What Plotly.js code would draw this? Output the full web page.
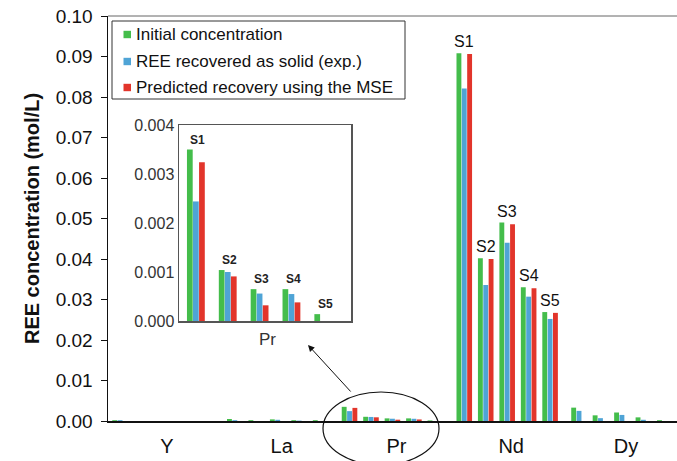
<!DOCTYPE html>
<html>
<head>
<meta charset="utf-8">
<script src="https://cdn.plot.ly/plotly-3.0.1.min.js"></script>
<style>html,body{margin:0;padding:0;background:#fff;}#chart{width:677px;height:461px;}</style>
</head>
<body>
<div id="chart"></div>
<script>
// ---------- data ----------
const elements = ['Y', 'La', 'Pr', 'Nd', 'Dy'];
const samples = ['S1', 'S2', 'S3', 'S4', 'S5'];
const seriesNames = ['Initial concentration', 'REE recovered as solid (exp.)', 'Predicted recovery using the MSE'];
const seriesColors = ['#44bd4b', '#4fa4d6', '#e2352b'];

// rows = elements (Y, La, Pr, Nd, Dy), columns = samples S1..S5, mol/L
const initialConc = [
  [0.0002, 0, 0, 0, 0],
  [0.0005, 0.0002, 0.0004, 0.0002, 0.0002],
  [0.0035, 0.00104, 0.00065, 0.00065, 0.00014],
  [0.0908, 0.0402, 0.0490, 0.0330, 0.0269],
  [0.0033, 0.0014, 0.0021, 0.0009, 0.0002]
];
const recoveredSolid = [
  [0.0002, 0, 0, 0, 0],
  [0.0002, 0, 0.0003, 0.0001, 0],
  [0.00244, 0.0010, 0.00056, 0.00055, 0],
  [0.0821, 0.0336, 0.0440, 0.0307, 0.0252],
  [0.0025, 0.0007, 0.0015, 0.0003, 0]
];
const predictedMSE = [
  [0, 0, 0, 0, 0],
  [0, 0, 0, 0, 0],
  [0.00324, 0.00091, 0.00032, 0.00038, 0],
  [0.0906, 0.0400, 0.0486, 0.0328, 0.0267],
  [0, 0, 0, 0, 0]
];
const seriesData = [initialConc, recoveredSolid, predictedMSE];
const insetElement = 'Pr';
const labelledElement = 'Nd';

// ---------- layout helpers ----------
const ML = 108, MR = 0, MT = 16, MB = 40, W = 677, H = 461;
const PW = W - ML - MR, PH = H - MT - MB;
const fx = px => (px - ML) / PW;
const fy = py => (H - MB - py) / PH;
const FONT = '"Liberation Sans", Arial, sans-serif';

const sampleStep = 0.187;        // spacing of sample groups inside an element (axis units)
const mainW = 0.0425, mainSlot = 0.0466;
const insetW = 0.18, insetSlot = 0.19;

const traces = [];
seriesData.forEach((ser, k) => {
  const xs = [], ys = [], txt = [];
  elements.forEach((el, i) => {
    samples.forEach((s, j) => {
      xs.push(i + (j - 2) * sampleStep);
      ys.push(ser[i][j]);
      txt.push(el + ' ' + s);
    });
  });
  traces.push({
    type: 'bar', name: seriesNames[k], x: xs, y: ys, text: txt, textposition: 'none',
    width: mainW, offset: -1.5 * mainSlot + k * mainSlot + (mainSlot - mainW) / 2,
    marker: {color: seriesColors[k], line: {width: 0}},
    xaxis: 'x', yaxis: 'y', showlegend: false
  });
});
const pi = elements.indexOf(insetElement);
seriesData.forEach((ser, k) => {
  traces.push({
    type: 'bar', name: seriesNames[k], x: samples, y: ser[pi],
    width: insetW, offset: -1.5 * insetSlot + k * insetSlot + (insetSlot - insetW) / 2,
    marker: {color: seriesColors[k], line: {width: 0}},
    xaxis: 'x2', yaxis: 'y2', showlegend: false
  });
});

const annotations = [];
const shapes = [];
// Nd sample labels
const ni = elements.indexOf(labelledElement);
samples.forEach((s, j) => {
  const top = Math.max(...seriesData.map(ser => ser[ni][j]));
  annotations.push({x: ni + (j - 2) * sampleStep, y: top, xref: 'x', yref: 'y', text: s,
    showarrow: false, xanchor: 'center', yanchor: 'bottom', yshift: 1, font: {family: FONT, size: 16, color: '#111'}});
});
// inset sample labels
samples.forEach((s, j) => {
  const top = Math.max(...seriesData.map(ser => ser[pi][j]));
  annotations.push({x: s, y: top, xref: 'x2', yref: 'y2', text: '<b>' + s + '</b>',
    showarrow: false, xanchor: 'center', yanchor: 'bottom', yshift: 1, xshift: 2, font: {family: FONT, size: 12, color: '#222'}});
});
// inset category label
annotations.push({x: fx(267), y: fy(339), xref: 'paper', yref: 'paper', text: insetElement,
  showarrow: false, xanchor: 'center', yanchor: 'middle', font: {family: FONT, size: 17, color: '#333'}});
// arrow from ellipse to inset
annotations.push({x: fx(308), y: fy(345), xref: 'paper', yref: 'paper', ax: 44, ay: 48,
  axref: 'pixel', ayref: 'pixel', text: '', showarrow: true, arrowhead: 2, arrowsize: 1.3,
  arrowwidth: 1, arrowcolor: '#111'});
// manual legend
const legY = [34.5, 61.5, 87.5];
seriesNames.forEach((n, k) => {
  shapes.push({type: 'rect', xref: 'paper', yref: 'paper', x0: fx(123.5), x1: fx(131), y0: fy(legY[k] - 3.7), y1: fy(legY[k] + 3.7),
    fillcolor: seriesColors[k], line: {width: 0}});
  annotations.push({x: fx(134), y: fy(legY[k]), xref: 'paper', yref: 'paper', text: n, showarrow: false,
    xanchor: 'left', yanchor: 'middle', font: {family: FONT, size: 17, color: '#111'}});
});
shapes.push({type: 'rect', xref: 'paper', yref: 'paper', x0: fx(112), x1: fx(405), y0: fy(21), y1: fy(99),
  line: {color: '#333', width: 1}, fillcolor: 'rgba(0,0,0,0)'});
// ellipse around Pr
shapes.push({type: 'circle', xref: 'paper', yref: 'paper', x0: fx(323), x1: fx(439), y0: fy(392), y1: fy(465),
  line: {color: '#111', width: 1.2}});
// top frame line
shapes.push({type: 'line', xref: 'paper', yref: 'paper', x0: 0, x1: 1, y0: 1, y1: 1, line: {color: '#666', width: 1}});

const layout = {
  width: W, height: H,
  margin: {l: ML, r: MR, t: MT, b: MB, pad: 0},
  paper_bgcolor: '#fff', plot_bgcolor: 'rgba(0,0,0,0)',
  barmode: 'overlay',
  showlegend: false,
  font: {family: FONT, color: '#111'},
  xaxis: {
    domain: [0, 1], range: [-0.479, 4.48], tickvals: elements.map((e, i) => i), ticktext: elements,
    showgrid: false, zeroline: false, showline: true, linecolor: '#111', linewidth: 2,
    ticks: '', ticklabelstandoff: 6, ticklabelshift: 4, tickfont: {family: FONT, size: 20, color: '#111'}
  },
  yaxis: {
    domain: [0, 1], range: [0, 0.10], dtick: 0.01, tickformat: '.2f',
    showgrid: false, zeroline: false, showline: true, linecolor: '#111', linewidth: 1.5,
    ticks: 'outside', ticklen: 6, tickwidth: 1, tickcolor: '#111', ticklabelstandoff: 4,
    tickfont: {family: FONT, size: 19, color: '#111'},
    title: {text: '<b>REE concentration (mol/L)</b>', font: {family: FONT, size: 20, color: '#111'}, standoff: 10}
  },
  xaxis2: {
    domain: [fx(179), fx(351)], anchor: 'y2', type: 'category', range: [-0.53, 4.87],
    showticklabels: false, ticks: '', showgrid: false, zeroline: false,
    showline: true, mirror: true, linecolor: '#555', linewidth: 1.5
  },
  yaxis2: {
    domain: [fy(321), fy(125)], anchor: 'x2', range: [0, 0.004], dtick: 0.001, tickformat: '.3f',
    showgrid: false, zeroline: false, showline: true, mirror: true, linecolor: '#555', linewidth: 1.5,
    ticks: '', ticklabelstandoff: 0, tickfont: {family: FONT, size: 16, color: '#333'}
  },
  shapes: shapes,
  annotations: annotations
};

Plotly.newPlot('chart', traces, layout, {staticPlot: true, displayModeBar: false});
</script>
</body>
</html>
